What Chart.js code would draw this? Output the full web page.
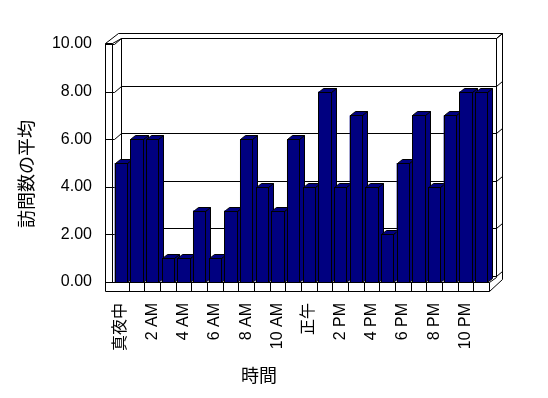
<!DOCTYPE html>
<html>
<head>
<meta charset="utf-8">
<script src="https://cdn.jsdelivr.net/npm/chart.js@4"></script>
<style>
  html, body { margin: 0; padding: 0; background: #ffffff; }
  #wrap { width: 548px; height: 398px; }
</style>
</head>
<body>
<div id="wrap"><canvas id="visitChart" width="548" height="398"></canvas></div>
<script>
const hours = [
  "真夜中", "1 AM", "2 AM", "3 AM", "4 AM", "5 AM", "6 AM", "7 AM", "8 AM", "9 AM", "10 AM", "11 AM",
  "正午", "1 PM", "2 PM", "3 PM", "4 PM", "5 PM", "6 PM", "7 PM", "8 PM", "9 PM", "10 PM", "11 PM",
];
const avgVisits = [5, 6, 6, 1, 1, 3, 1, 3, 6, 4, 3, 6, 4, 8, 4, 7, 4, 2, 5, 7, 4, 7, 8, 8];
const yTicks = [0, 2, 4, 6, 8, 10];
const yTitle = "訪問数の平均";
const xTitle = "時間";

const NAVY = "#000080";
const FONT = "'Liberation Sans', Arial, 'Noto Sans CJK JP', sans-serif";
const BAR_DX = 5;
const BAR_DY = -4;

function line(ctx, pts) {
  ctx.beginPath();
  ctx.moveTo(pts[0][0], pts[0][1]);
  for (let i = 1; i < pts.length; i++) ctx.lineTo(pts[i][0], pts[i][1]);
  ctx.stroke();
}

function poly(ctx, pts) {
  ctx.beginPath();
  ctx.moveTo(pts[0][0], pts[0][1]);
  for (let i = 1; i < pts.length; i++) ctx.lineTo(pts[i][0], pts[i][1]);
  ctx.closePath();
  ctx.fill();
  ctx.stroke();
}

function barBox(bar) {
  return {
    l: Math.round(bar.x - bar.width / 2) + 0.5,
    r: Math.round(bar.x + bar.width / 2) + 0.5,
    y: Math.round(bar.y) + 0.5,
    b: Math.round(bar.base) + 0.5,
  };
}

// walls, floor and the depth faces of the columns (front faces come from Chart.js)
const boxPlugin = {
  id: "box3d",
  beforeDatasetsDraw(chart) {
    const ctx = chart.ctx;
    const { left, right, bottom } = chart.chartArea;
    const yScale = chart.scales.y;
    const xScale = chart.scales.x;
    const L = left - 8, Li = left - 1, B = left + 8;       // left wall lines
    const R = right + 7, Ro = right + 13;                  // right wall lines
    const t = Math.round(yScale.getPixelForValue(10));
    ctx.save();
    ctx.strokeStyle = "#000";
    ctx.lineWidth = 1;
    ctx.translate(0.5, 0.5);

    // back wall grid lines
    yTicks.forEach((v) => {
      const yF = Math.round(yScale.getPixelForValue(v));
      const yB = yF - 6;
      line(ctx, [[L, yF], [left + 1, yF], [B, yB], [R, yB]]);
      line(ctx, [[R, yB], [Ro, yB - 5]]);
    });

    // wall frame
    line(ctx, [[L, t - 1], [L, bottom + 9]]);
    line(ctx, [[Li, t - 1], [Li, bottom]]);
    line(ctx, [[B, t - 6], [B, bottom - 6]]);
    line(ctx, [[L, t - 1], [Li, t - 1], [B, t - 6], [R, t - 6], [R, bottom - 5]]);
    line(ctx, [[L, t - 1], [L + 13, t - 11], [Ro, t - 11], [Ro, bottom - 3]]);
    line(ctx, [[R, t - 6], [Ro, t - 11]]);

    // floor
    line(ctx, [[Li, bottom], [right, bottom], [right, bottom + 9], [L, bottom + 9]]);
    line(ctx, [[right, bottom], [R, bottom - 5]]);
    line(ctx, [[right, bottom + 9], [Ro, bottom - 3]]);
    for (let i = 1; i < hours.length; i++) {
      const x = Math.round((xScale.getPixelForValue(i - 1) + xScale.getPixelForValue(i)) / 2);
      line(ctx, [[x, bottom], [x, bottom + 9]]);
    }
    ctx.restore();

    // column sides and tops
    ctx.save();
    ctx.fillStyle = NAVY;
    ctx.strokeStyle = "#000";
    ctx.lineWidth = 1;
    chart.getDatasetMeta(0).data.forEach((bar) => {
      const { l, r, y, b } = barBox(bar);
      poly(ctx, [[r, y], [r + BAR_DX, y + BAR_DY], [r + BAR_DX, b + BAR_DY], [r, b]]);
      poly(ctx, [[l, y], [l + BAR_DX, y + BAR_DY], [r + BAR_DX, y + BAR_DY], [r, y]]);
    });
    ctx.restore();
  },
  afterDatasetsDraw(chart) {
    // crisp outlines on the front faces
    const ctx = chart.ctx;
    ctx.save();
    ctx.fillStyle = NAVY;
    ctx.strokeStyle = "#000";
    ctx.lineWidth = 1;
    chart.getDatasetMeta(0).data.forEach((bar) => {
      const { l, r, y, b } = barBox(bar);
      ctx.fillRect(l, y, r - l, b - y);
      ctx.strokeRect(l, y, r - l, b - y);
    });
    ctx.restore();
  },
  afterDraw(chart) {
    const ctx = chart.ctx;
    ctx.save();
    ctx.fillStyle = "#000";
    ctx.font = "18px " + FONT;
    ctx.textAlign = "center";
    ctx.textBaseline = "middle";
    ctx.fillText(xTitle, 259, 377);
    ctx.translate(28, 174);
    ctx.rotate(-Math.PI / 2);
    ctx.fillText(yTitle, 0, 0);
    ctx.restore();
  },
};

function buildChart() {
  const ctx = document.getElementById("visitChart").getContext("2d");
  return new Chart(ctx, {
    type: "bar",
    data: {
      labels: hours,
      datasets: [{
        data: avgVisits,
        backgroundColor: NAVY,
        borderWidth: 0,
        categoryPercentage: 1,
        barPercentage: 0.79,
      }],
    },
    options: {
      responsive: false,
      animation: false,
      events: [],
      layout: { padding: { top: 44, right: 59, left: 0, bottom: 0 } },
      plugins: { legend: { display: false }, tooltip: { enabled: false } },
      scales: {
        x: {
          grid: { display: false, drawTicks: false },
          border: { display: false },
          afterFit(scale) { scale.height = 116; },
          ticks: {
            autoSkip: false,
            maxRotation: 90,
            minRotation: 90,
            padding: 21,
            color: "#000",
            font: { family: FONT, size: 16 },
            callback: (v, i) => (i % 2 === 0 ? hours[i] : ""),
          },
        },
        y: {
          min: 0,
          max: 10,
          grid: { display: false, drawTicks: false },
          border: { display: false },
          afterFit(scale) { scale.width = 113; },
          afterBuildTicks(scale) { scale.ticks = yTicks.map((v) => ({ value: v })); },
          ticks: {
            padding: 21,
            color: "#000",
            font: { family: FONT, size: 16 },
            callback: (v) => Number(v).toFixed(2),
          },
        },
      },
    },
    plugins: [boxPlugin],
  });
}

window.addEventListener("load", buildChart);
</script>
</body>
</html>
